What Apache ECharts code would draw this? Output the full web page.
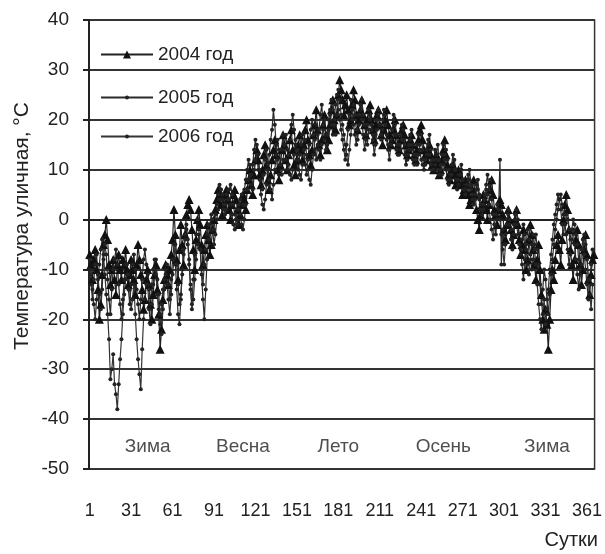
<!DOCTYPE html>
<html>
<head>
<meta charset="utf-8">
<script src="https://cdn.jsdelivr.net/npm/echarts@6/dist/echarts.min.js"></script>
<style>html,body{margin:0;padding:0;background:#fff}#c{width:605px;height:554px}</style>
</head>
<body>
<div id="c"></div>
<script>
// Day numbers (category axis)
const days = [];
for (let d = 1; d <= 366; d++) days.push(d);

const yTicks = [-50, -40, -30, -20, -10, 0, 10, 20, 30, 40];

const seasonNames = ['Зима', 'Весна', 'Лето', 'Осень', 'Зима'];
const seasonDays = [43, 112, 181, 257, 332];
const seasonY = -45.5;

const seriesNames = ['2004 год', '2005 год', '2006 год'];

// 2004 (leap year, 366 days)
const t2004 = [
  -7,-9,-12,-8,-6,-10,-14,-20,-17,-11,-5,-3,0,-4,-9,-13,-10,-8,-12,-15,-9,-7,-10,-12,-8,-9,-6,-10,-13,-11,-8,
  -10,-12,-15,-9,-5,-8,-11,-14,-18,-16,-12,-10,-13,-17,-20,-15,-11,-9,-14,-19,-26,-22,-16,-12,-9,-11,-13,-10,-7,
  -4,2,-3,-8,-12,-6,-1,-5,-9,-3,1,3,4,2,-2,-6,-10,-4,0,2,-1,-5,-9,-6,-3,-1,-4,-7,-5,-2,0,
  2,4,6,5,3,1,3,5,6,4,2,0,3,5,6,4,2,-1,1,3,5,4,2,6,8,10,7,5,9,12,
  14,12,9,7,10,13,15,11,8,6,9,12,14,16,13,10,8,11,14,17,15,12,10,13,16,18,14,11,9,12,15,
  17,14,12,15,18,20,16,13,11,14,17,19,22,18,15,13,16,19,21,17,14,16,19,22,24,20,18,21,25,28,
  26,24,21,23,25,22,19,20,23,26,24,21,18,20,22,24,21,19,17,20,22,23,20,18,16,19,21,22,19,17,15,
  18,20,22,19,17,15,16,18,20,17,15,14,16,18,19,17,15,13,14,16,17,15,13,12,14,16,18,19,16,14,13,
  12,14,15,13,11,10,12,13,11,9,10,12,14,16,13,11,9,8,10,11,9,7,8,10,9,7,5,6,8,7,
  5,3,4,6,8,5,2,0,-2,1,3,5,4,2,0,3,6,8,5,2,1,-1,2,4,3,1,-2,-4,-1,2,0,
  -2,-5,-3,0,2,-1,-4,-7,-5,-2,-6,-10,-8,-4,-1,-3,-6,-9,-12,-8,-5,-10,-15,-20,-22,-18,-21,-26,-20,-14,
  -10,-12,-8,-5,-3,-6,-9,-4,0,3,5,2,-2,-6,-9,-12,-8,-4,-2,-5,-9,-13,-10,-6,-3,-7,-12,-15,-11,-8,-7
];

// 2005 (365 days)
const t2005 = [
  -10,-13,-16,-12,-9,-7,-11,-15,-18,-14,-8,-5,-7,-12,-16,-19,-14,-10,-8,-6,-9,-13,-17,-20,-16,-12,-9,-11,-14,-17,-13,
  -9,-7,-10,-14,-17,-20,-16,-12,-8,-6,-9,-13,-18,-21,-17,-13,-10,-8,-12,-15,-19,-23,-18,-14,-11,-9,-13,-16,
  -12,-8,-5,-9,-14,-19,-21,-16,-10,-6,-3,-1,-4,-8,-13,-17,-12,-7,-3,0,-2,-6,-11,-16,-20,-14,-8,-4,-1,1,-2,
  -5,-3,0,2,4,6,5,3,1,2,4,6,7,5,3,1,0,-1,2,4,5,3,6,8,10,12,9,7,11,14,
  16,13,10,8,5,3,2,4,7,10,13,16,18,22,19,15,12,9,11,14,17,15,12,10,13,16,19,21,18,15,12,
  10,13,15,17,14,11,9,12,15,18,20,17,14,12,15,18,21,23,19,16,14,17,20,22,19,17,20,23,25,22,
  20,18,16,14,12,15,18,21,24,22,19,17,15,18,21,23,20,17,14,16,19,22,20,18,16,13,15,18,21,19,17,
  20,22,19,16,14,12,15,18,20,17,14,13,15,17,19,16,13,11,13,15,17,14,12,11,13,15,17,14,12,11,10,
  12,14,16,13,11,10,12,14,12,10,9,11,13,15,12,10,8,7,9,11,13,10,8,6,7,9,11,8,6,5,
  7,9,8,6,4,3,5,7,6,4,2,1,3,5,7,9,6,8,4,1,-1,-3,0,2,12,-9,-2,-5,-3,0,1,
  -1,-4,-6,-3,0,2,0,-3,-6,-9,-12,-8,-5,-2,-4,-7,-10,-8,-5,-3,-6,-9,-13,-17,-14,-10,-12,-16,-19,-15,
  -11,-8,-5,-2,0,2,4,5,3,1,-1,-3,-6,-9,-7,-4,-2,-5,-8,-11,-14,-10,-6,-4,-7,-10,-13,-16,-12,-9,-6
];

// 2006 (365 days)
const t2006 = [
  -8,-11,-14,-17,-20,-16,-12,-9,-6,-4,-7,-11,-15,-19,-24,-32,-30,-27,-33,-35,-38,-33,-28,-24,-19,-15,-12,-9,-11,-14,-18,
  -16,-13,-19,-24,-28,-31,-34,-26,-20,-16,-13,-11,-14,-17,-13,-10,-8,-11,-15,-18,-21,-17,-14,-12,-10,-13,-16,-19,
  -15,-11,-8,-5,-9,-13,-17,-15,-11,-7,-4,-2,-5,-9,-14,-18,-16,-12,-8,-5,-3,-6,-10,-13,-9,-6,-3,-1,-4,-2,0,
  -2,1,3,5,7,6,4,2,3,5,6,4,3,1,-1,-2,0,2,3,1,-1,-2,0,3,6,8,11,9,6,10,
  12,15,13,10,8,6,9,12,14,11,8,6,4,7,10,13,16,14,11,9,12,15,17,14,11,9,8,10,13,16,14,
  12,9,8,11,14,16,13,10,8,7,10,13,16,19,17,14,12,15,18,20,17,15,18,21,24,22,19,17,21,26,
  24,21,19,17,15,13,11,14,17,20,23,21,18,16,19,22,24,21,19,17,15,18,21,19,17,15,17,20,22,19,16,
  18,21,19,17,15,14,16,18,21,19,17,15,13,14,16,18,15,13,12,14,16,18,15,13,12,11,13,15,17,14,12,
  11,13,15,17,14,12,10,11,13,15,12,10,9,11,13,14,12,10,8,9,11,12,10,8,7,9,10,8,6,5,
  6,8,10,7,5,3,4,6,8,5,3,1,2,4,6,5,3,0,-2,-4,-1,1,3,2,0,-3,-6,-9,-5,-1,2,
  0,-2,-4,-1,1,-1,-3,-5,-7,-4,-1,-3,-6,-9,-11,-8,-5,-3,-6,-9,-13,-17,-20,-22,-19,-16,-21,-18,-14,-10,
  -7,-4,-1,1,3,5,4,2,-1,-3,-1,1,0,-2,-4,-2,0,-1,-3,-5,-8,-11,-9,-6,-3,-5,-8,-12,-15,-18,-13
];

const FONT = 'Liberation Sans';
const TXT = '#222';
const chart = echarts.init(document.getElementById('c'));

function legendFor(name, rowTop, iconH) {
  return {
    data: [name],
    left: 100,
    top: rowTop,
    padding: 0,
    itemWidth: 52,
    itemHeight: iconH,
    textStyle: { fontFamily: FONT, fontSize: 19, color: TXT }
  };
}

chart.setOption({
  animation: false,
  backgroundColor: '#fff',
  textStyle: { fontFamily: FONT },
  grid: { left: 89, right: 8, top: 20, bottom: 85, show: true, borderColor: '#333', borderWidth: 1.5, containLabel: false },
  legend: [
    legendFor(seriesNames[0], 45, 10),
    legendFor(seriesNames[1], 88, 5),
    legendFor(seriesNames[2], 127, 5)
  ],
  title: {
    text: 'Сутки',
    right: 7,
    top: 530,
    padding: 0,
    textStyle: { fontFamily: FONT, fontSize: 20, fontWeight: 'normal', color: TXT }
  },
  graphic: [{
    type: 'text',
    x: 22, y: 226,
    rotation: Math.PI / 2,
    style: { text: 'Температура уличная, °С', fontFamily: FONT, fontSize: 21, fill: TXT, align: 'center', verticalAlign: 'middle' }
  }],
  xAxis: {
    type: 'category',
    data: days,
    boundaryGap: true,
    axisLine: { lineStyle: { color: '#222', width: 2 } },
    axisTick: { interval: 14, length: 6, lineStyle: { color: '#222', width: 2 } },
    axisLabel: { interval: 29, margin: 33, fontFamily: FONT, fontSize: 18, color: TXT },
    splitLine: { show: false }
  },
  yAxis: {
    type: 'value',
    min: -50, max: 40, interval: 10,
    axisLine: { show: true, lineStyle: { color: '#222', width: 2 } },
    axisTick: { show: true, length: 6, lineStyle: { color: '#222', width: 2 } },
    axisLabel: { margin: 20, fontFamily: FONT, fontSize: 19, color: TXT,
      formatter: v => yTicks.indexOf(v) >= 0 ? String(v) : '' },
    splitLine: { lineStyle: { color: '#333', width: 2 } }
  },
  series: [
    {
      name: seriesNames[0], type: 'line', data: t2004,
      symbol: 'triangle', symbolSize: 9, showAllSymbol: true,
      lineStyle: { color: '#222', width: 1.2 }, itemStyle: { color: '#111' }
    },
    {
      name: seriesNames[1], type: 'line', data: t2005,
      symbol: 'circle', symbolSize: 4, showAllSymbol: true,
      lineStyle: { color: '#2a2a2a', width: 1.2 }, itemStyle: { color: '#222' }
    },
    {
      name: seriesNames[2], type: 'line', data: t2006,
      symbol: 'circle', symbolSize: 4, showAllSymbol: true,
      lineStyle: { color: '#333', width: 1.2 }, itemStyle: { color: '#222' }
    },
    {
      name: 'seasons', type: 'scatter', symbolSize: 1, silent: true,
      itemStyle: { color: 'rgba(0,0,0,0)' },
      data: seasonDays.map((d, i) => ({ value: [d - 1, seasonY], name: seasonNames[i] })),
      label: { show: true, position: 'inside', formatter: p => p.name, fontFamily: FONT, fontSize: 19, color: TXT }
    }
  ]
});
</script>
</body>
</html>
